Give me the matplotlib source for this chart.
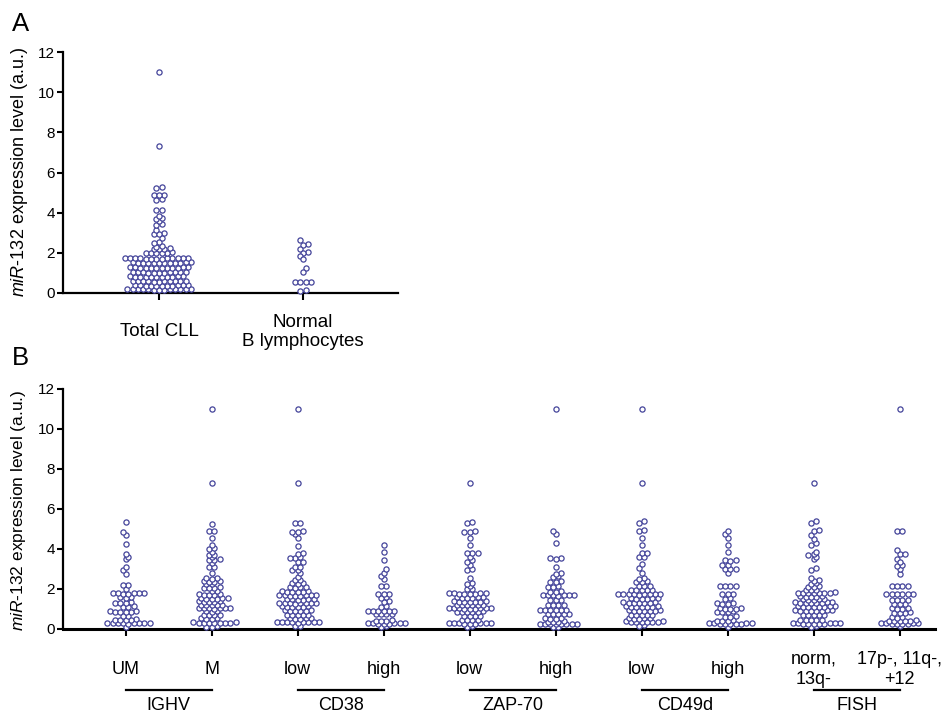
import numpy as np
import matplotlib
matplotlib.use("Agg")
import matplotlib.pyplot as plt
from matplotlib import transforms

plt.rcParams['font.family'] = ['Liberation Sans', 'DejaVu Sans']
plt.rcParams['mathtext.fontset'] = 'custom'
plt.rcParams['mathtext.it'] = 'Liberation Sans:italic'
plt.rcParams['mathtext.rm'] = 'Liberation Sans'

W, H = 948, 714  # output size in pixels

# ---- panel A data ----
a_labels = ["Total CLL", "Normal\nB lymphocytes"]
total_cll = [0.22, 0.21, 0.21, 0.2, 0.2, 0.2, 0.19, 0.19, 0.18, 0.18, 0.17, 0.16, 0.15,
             0.4, 0.39, 0.39, 0.38, 0.38, 0.37, 0.37, 0.36, 0.36, 0.35, 0.35,
             0.62, 0.61, 0.61, 0.6, 0.6, 0.59, 0.59, 0.58, 0.58, 0.57, 0.57,
             0.84, 0.83, 0.83, 0.82, 0.82, 0.81, 0.81, 0.8, 0.8, 0.79, 0.79,
             1.06, 1.05, 1.05, 1.04, 1.04, 1.03, 1.03, 1.02, 1.02, 1.01, 1.01,
             1.28, 1.28, 1.27, 1.27, 1.26, 1.26, 1.25, 1.25, 1.24, 1.24, 1.23, 1.23,
             1.53, 1.52, 1.52, 1.51, 1.51, 1.5, 1.5, 1.49, 1.49, 1.48, 1.48, 1.47,
             1.76, 1.75, 1.75, 1.74, 1.74, 1.73, 1.73, 1.72, 1.72, 1.71, 1.71, 1.7, 1.7,
             2.02, 2.01, 2.0, 2.0, 1.99, 1.98,
             2.22, 2.2, 2.19, 2.18,
             2.34, 2.3, 2.52, 2.48, 2.75, 2.97, 2.95, 2.93, 3.12, 3.42, 3.38, 3.57,
             3.72, 3.68, 3.85, 4.15, 4.12, 4.66, 4.62, 4.9, 4.88, 4.86, 5.3, 5.25,
             7.3, 11.0]
normal_b = [2.65, 2.42, 2.38, 2.2, 2.02, 1.98, 1.82, 1.68, 1.23, 1.05,
            0.57, 0.56, 0.55, 0.54, 0.13, 0.11]

# ---- panel B data ----
b_labels = ["UM", "M", "low", "high", "low", "high", "low", "high",
            "norm,\n13q-", "17p-, 11q-,\n+12"]
b_groups = ["IGHV", "CD38", "ZAP-70", "CD49d", "FISH"]

ighv_um = [0.12,
           0.31, 0.31, 0.3, 0.3, 0.29, 0.29, 0.28, 0.28, 0.27,
           0.48, 0.47, 0.46, 0.45, 0.44,
           0.66, 0.64,
           0.88, 0.88, 0.87, 0.86, 0.86, 0.85,
           1.13, 1.12, 1.1,
           1.33, 1.32, 1.31, 1.3,
           1.6, 1.58, 1.56,
           1.81, 1.8, 1.79, 1.78, 1.78, 1.77, 1.76,
           2.0, 2.2, 2.18,
           2.75, 2.95, 3.1, 3.5, 3.6, 3.75, 4.25, 4.7, 4.85, 5.35]
ighv_m = [0.13, 0.12, 0.11,
          0.33, 0.33, 0.32, 0.32, 0.31, 0.31, 0.3, 0.3, 0.29,
          0.54, 0.53, 0.52, 0.51,
          0.71, 0.7, 0.69, 0.68,
          0.89, 0.88, 0.87,
          1.06, 1.05, 1.04, 1.04, 1.03, 1.03, 1.02,
          1.22, 1.21, 1.2, 1.19, 1.18,
          1.38, 1.38, 1.37, 1.36, 1.35,
          1.55, 1.54, 1.53, 1.52, 1.51, 1.5,
          1.74, 1.73, 1.72, 1.71, 1.7,
          1.9, 1.88,
          2.08, 2.07, 2.06, 2.05,
          2.26, 2.24,
          2.4, 2.38, 2.37, 2.36,
          2.55, 2.53, 2.5, 2.8, 3.1, 3.12, 3.28, 3.44, 3.46, 3.48, 3.58, 3.7, 3.72,
          3.87, 4.02, 4.05, 4.2, 4.55, 4.88, 4.92, 5.25, 7.3, 11.0]
cd38_low = [0.16, 0.14,
            0.36, 0.36, 0.35, 0.35, 0.34, 0.34, 0.33, 0.33, 0.32,
            0.54, 0.53, 0.53, 0.52, 0.51,
            0.72, 0.71, 0.7, 0.69, 0.68,
            0.94, 0.93, 0.92, 0.92, 0.91, 0.9,
            1.14, 1.13, 1.12, 1.12, 1.11, 1.1,
            1.32, 1.31, 1.3, 1.3, 1.29, 1.28, 1.28, 1.27,
            1.5, 1.49, 1.48, 1.48, 1.47, 1.46,
            1.7, 1.7, 1.69, 1.68, 1.68, 1.67, 1.66, 1.66,
            1.89, 1.88, 1.87, 1.87, 1.86, 1.85,
            2.1, 2.09, 2.08, 2.07,
            2.3, 2.28, 2.27,
            2.46, 2.44, 2.58,
            2.82, 2.93, 2.96, 3.1, 3.12, 3.35, 3.37, 3.55, 3.57, 3.6, 3.76, 3.8,
            4.17, 4.53, 4.73, 4.85, 4.87, 4.9, 5.28, 5.32, 7.3, 11.0]
cd38_high = [0.13, 0.11,
             0.3, 0.29, 0.29, 0.28, 0.28, 0.27, 0.27, 0.26,
             0.43, 0.42, 0.42, 0.41,
             0.76, 0.75, 0.74, 0.73,
             0.92, 0.91, 0.9, 0.9, 0.89, 0.88,
             1.13, 1.11, 1.38, 1.36, 1.59, 1.57, 1.76, 1.75, 1.74,
             2.16, 2.14, 2.48, 2.63, 2.8, 2.98, 3.45, 3.87, 4.22]
zap_low = [0.14, 0.12,
           0.3, 0.3, 0.29, 0.29, 0.28, 0.28, 0.27, 0.27, 0.26,
           0.47, 0.46, 0.45, 0.44,
           0.66, 0.65, 0.64, 0.63,
           0.88, 0.87, 0.87, 0.86, 0.86, 0.85,
           1.05, 1.05, 1.04, 1.04, 1.03, 1.03, 1.02, 1.02, 1.01,
           1.22, 1.21, 1.2, 1.2, 1.19, 1.18,
           1.39, 1.38, 1.37, 1.37, 1.36, 1.35, 1.34,
           1.6, 1.59, 1.58, 1.57, 1.56, 1.55,
           1.8, 1.79, 1.79, 1.78, 1.77, 1.77, 1.76, 1.75,
           2.01, 1.99, 2.14, 2.28, 2.26, 2.53,
           2.97, 3.0, 3.2, 3.37, 3.45, 3.62, 3.78, 3.8, 3.82, 4.2, 4.53, 4.85,
           4.87, 4.9, 5.3, 5.35, 7.3]
zap_high = [0.12, 0.11,
            0.26, 0.26, 0.25, 0.25, 0.24, 0.24, 0.23, 0.23,
            0.38, 0.37, 0.37, 0.36,
            0.54, 0.53, 0.52, 0.52,
            0.76, 0.75, 0.74, 0.74, 0.73,
            0.96, 0.95, 0.95, 0.94, 0.94, 0.93,
            1.21, 1.2, 1.19, 1.18,
            1.46, 1.45, 1.44,
            1.72, 1.71, 1.7, 1.7, 1.69, 1.68, 1.67,
            1.88, 1.87, 1.86,
            2.13, 2.12, 2.11, 2.38, 2.37, 2.36, 2.63, 2.61, 2.8, 2.76,
            3.12, 3.55, 3.53, 3.5, 4.3, 4.75, 4.9, 11.0]
cd49d_low = [0.18, 0.16,
             0.38, 0.38, 0.37, 0.37, 0.36, 0.36, 0.35, 0.35,
             0.55, 0.54, 0.53, 0.52, 0.51,
             0.72, 0.71, 0.7, 0.69, 0.68,
             0.94, 0.93, 0.92, 0.92, 0.91, 0.9, 0.9,
             1.14, 1.13, 1.12, 1.12, 1.11, 1.1, 1.1,
             1.34, 1.33, 1.32, 1.32, 1.31, 1.3, 1.3,
             1.55, 1.54, 1.53, 1.52, 1.52, 1.51,
             1.77, 1.76, 1.76, 1.75, 1.75, 1.74, 1.74, 1.73, 1.72,
             1.97, 1.96, 1.95, 1.94, 1.93,
             2.16, 2.15, 2.14, 2.38, 2.37, 2.36, 2.54, 2.52, 2.78, 3.03, 3.25,
             3.6, 3.62, 3.78, 3.82, 4.2, 4.55, 4.9, 4.95, 5.3, 5.38, 7.3, 11.0]
cd49d_high = [0.12,
              0.29, 0.29, 0.28, 0.28, 0.27, 0.27, 0.26, 0.26, 0.25,
              0.43, 0.42, 0.42, 0.41,
              0.63, 0.62, 0.61,
              0.88, 0.87, 0.86, 0.85,
              1.04, 1.03, 1.02, 1.01, 1.0,
              1.29, 1.28, 1.27, 1.26,
              1.53, 1.52, 1.76, 1.75, 1.74,
              2.16, 2.15, 2.14, 2.13,
              2.82, 3.02, 3.0, 2.98, 3.22, 3.18, 3.45, 3.44, 3.42, 3.87, 4.22,
              4.55, 4.75, 4.9]
fish_norm = [0.14, 0.12,
             0.29, 0.29, 0.28, 0.28, 0.28, 0.27, 0.27, 0.26, 0.26, 0.25,
             0.47, 0.46, 0.45, 0.44, 0.43,
             0.72, 0.71, 0.7, 0.69, 0.68,
             0.94, 0.93, 0.93, 0.92, 0.92, 0.91, 0.91, 0.9,
             1.14, 1.13, 1.13, 1.12, 1.12, 1.11, 1.11, 1.1,
             1.34, 1.33, 1.33, 1.32, 1.32, 1.31, 1.31, 1.3,
             1.5, 1.49, 1.48, 1.47, 1.46,
             1.64, 1.63, 1.62, 1.61, 1.6,
             1.83, 1.82, 1.82, 1.81, 1.81, 1.8, 1.8, 1.79,
             1.97, 1.95, 1.94,
             2.13, 2.12, 2.1, 2.29, 2.27, 2.43, 2.41, 2.53,
             2.95, 3.03, 3.5, 3.62, 3.72, 3.75, 3.85, 4.22, 4.3, 4.52, 4.68, 4.9,
             4.95, 5.32, 5.38, 7.3]
fish_high = [0.14,
             0.29, 0.29, 0.28, 0.28, 0.27, 0.27, 0.26, 0.26,
             0.43, 0.42, 0.42, 0.41, 0.4, 0.4,
             0.59, 0.58, 0.57,
             0.83, 0.82, 0.81, 0.8,
             1.04, 1.03, 1.02, 1.01,
             1.26, 1.25, 1.24,
             1.47, 1.46, 1.45, 1.44,
             1.77, 1.76, 1.75, 1.75, 1.74, 1.73,
             2.17, 2.16, 2.15, 2.14,
             2.73, 3.0, 3.2, 3.17, 3.5, 3.35, 3.73, 3.77, 3.95, 4.88, 4.92, 11.0]

b_series = [ighv_um, ighv_m, cd38_low, cd38_high, zap_low, zap_high,
            cd49d_low, cd49d_high, fish_norm, fish_high]

DOT = "#44449a"
GAP = 5.3    # centre-to-centre distance of dots in a row, pixels
ROW_TOL = 0.1  # values closer than this share a row


def row_offsets(values, px_y, gap=GAP, tol=ROW_TOL):
    # prism-like scatter: near-equal values sit side by side in a centred row,
    # neighbouring rows are shifted half a dot so they nest
    v = np.asarray(values, dtype=float)
    order = np.argsort(v, kind="stable")
    rows = []
    for i in order:
        if rows and v[i] - v[rows[-1][0]] < tol:
            rows[-1].append(i)
        else:
            rows.append([i])
    offs = np.zeros(len(v))
    prev_y, prev_phase = None, None
    flip = 1
    for r in rows:
        n = len(r)
        base = (np.arange(n) - (n - 1) / 2.0) * gap
        base = base[np.argsort(np.abs(base), kind="stable")]
        y = v[r].mean() * px_y
        phase = (-(n - 1) / 2.0 * gap) % gap
        shift = 0.0
        if prev_y is not None and abs(y - prev_y) < gap:
            d = abs(phase - prev_phase) % gap
            if min(d, gap - d) < 0.25 * gap:
                shift = flip * gap / 2.0
                flip = -flip
        offs[r] = base + shift
        prev_y, prev_phase = y, (phase + shift) % gap
    return offs


def style_axis(ax):
    for s in ["top", "right"]:
        ax.spines[s].set_visible(False)
    for s in ["left", "bottom"]:
        ax.spines[s].set_linewidth(1.6)
    ax.set_ylim(0, 12)
    ax.set_yticks(range(0, 13, 2))
    ax.tick_params(axis="y", direction="out", length=4, width=1.5, labelsize=11, pad=2)


def draw_dots(ax, series, fig_w_px, fig_h_px):
    bb = ax.get_position()
    w_px = bb.width * fig_w_px
    h_px = bb.height * fig_h_px
    x0, x1 = ax.get_xlim()
    px_x = w_px / (x1 - x0)
    px_y = h_px / 12.0
    for i, vals in enumerate(series):
        offs = row_offsets(vals, px_y)
        ax.scatter(i + offs / px_x, vals, s=14, facecolors="white",
                   edgecolors=DOT, linewidths=0.9, clip_on=False, zorder=3)


fig = plt.figure(figsize=(W / 100, H / 100), dpi=100)

ylab = r"$\mathit{miR}$-$\mathit{132}$ expression level (a.u.)"

# ---- panel A ----
axA = fig.add_axes([63 / W, 1 - 293 / H, 335 / W, 241 / H])
axA.set_xlim(-0.667, 1.66)
style_axis(axA)
draw_dots(axA, [total_cll, normal_b], W, H)
axA.set_xticks([0, 1])
axA.set_xticklabels(a_labels, fontsize=13.5, va="center", linespacing=1.15)
axA.tick_params(axis="x", direction="out", length=5, width=1.5, pad=23)
fig.text(20 / W, 1 - 172 / H, ylab, rotation=90, ha="center", va="center", fontsize=13)
fig.text(21 / W, 1 - 24 / H, "A", fontsize=18.5, ha="center", va="center")

# ---- panel B ----
axB = fig.add_axes([63 / W, 1 - 629 / H, 872 / W, 240 / H])
axB.set_xlim(-0.73, 9.41)
style_axis(axB)
axB.spines["bottom"].set_linewidth(2.2)
draw_dots(axB, b_series, W, H)
axB.set_xticks(range(len(b_labels)))
axB.set_xticklabels(b_labels, fontsize=13, va="center", linespacing=1.25)
axB.tick_params(axis="x", direction="out", length=5, width=1.5, pad=24)
fig.text(19 / W, 1 - 510 / H, ylab, rotation=90, ha="center", va="center", fontsize=12.5)
fig.text(20 / W, 1 - 358 / H, "B", fontsize=18.5, ha="center", va="center")

# group bars and names under pairs of categories
trans = transforms.blended_transform_factory(axB.transData, axB.transAxes)
y_line = (629 - 690) / 240.0
y_name = (629 - 705) / 240.0
for k, name in enumerate(b_groups):
    a, b = 2 * k, 2 * k + 1
    axB.plot([a, b], [y_line, y_line], color="black", lw=1.6, transform=trans, clip_on=False)
    axB.text((a + b) / 2, y_name, name, transform=trans, ha="center", va="center",
             fontsize=13)

fig.savefig("out.png", dpi=100)
